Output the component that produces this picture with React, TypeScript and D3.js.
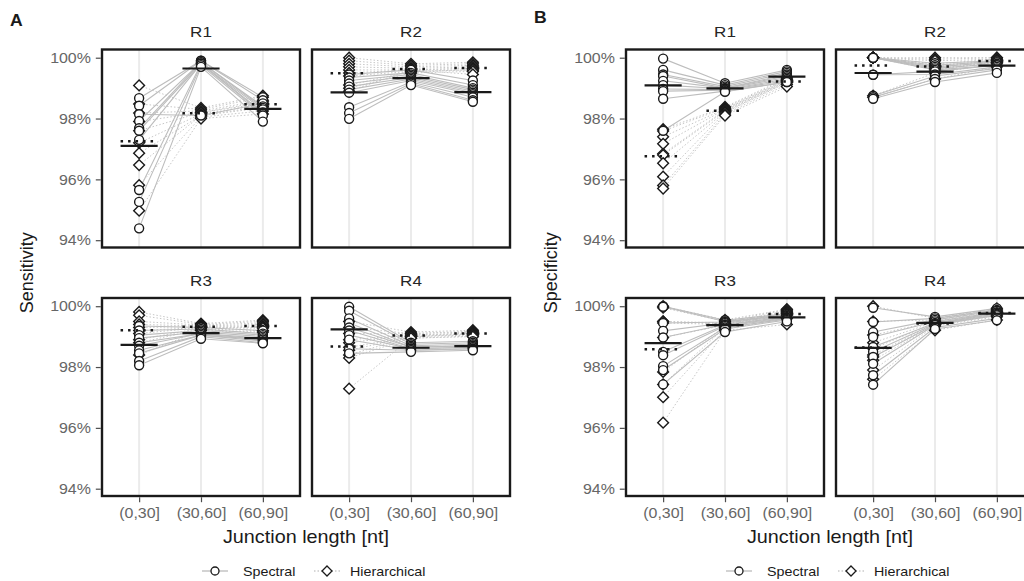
import * as d3 from 'd3';
import { useRef, useEffect } from 'react';

const categories = ['(0,30]', '(30,60]', '(60,90]'];
const regions = ['R1', 'R2', 'R3', 'R4'];
const methods = ['Spectral', 'Hierarchical'];
const yTicks = [94, 96, 98, 100];

// sensitivity (%), one array per junction-length bin, samples in the same order
const sensR1Spectral = [
  [98.67, 98.42, 98.14, 97.92, 97.68, 97.6, 97.3, 95.65, 95.26, 94.39],
  [99.9, 99.9, 98.1, 99.85, 99.85, 99.8, 99.8, 99.8, 99.75, 99.7],
  [98.7, 98.6, 98.5, 98.4, 98.35, 98.3, 98.2, 98.15, 98.1, 97.9],
];
const sensR1Hierarchical = [
  [99.09, 98.48, 98.18, 97.9, 97.6, 97.2, 96.86, 96.47, 95.81, 94.97],
  [98.35, 98.3, 98.25, 98.2, 98.2, 98.15, 98.1, 98.1, 98.05, 98.0],
  [98.75, 98.7, 98.6, 98.55, 98.5, 98.45, 98.4, 98.35, 98.25, 98.15],
];
const sensR2Spectral = [
  [99.45, 99.35, 99.25, 99.15, 99.05, 98.95, 98.85, 98.37, 98.18, 97.99],
  [99.6, 99.5, 99.45, 99.4, 99.35, 99.3, 99.25, 99.2, 99.15, 99.1],
  [99.25, 99.1, 99.0, 98.95, 98.9, 98.85, 98.8, 98.7, 98.6, 98.55],
];
const sensR2Hierarchical = [
  [100.0, 99.9, 99.8, 99.7, 99.6, 99.5, 99.4, 99.1, 99.0, 98.9],
  [99.8, 99.75, 99.7, 99.65, 99.6, 99.6, 99.55, 99.55, 99.5, 99.6],
  [99.85, 99.8, 99.75, 99.7, 99.65, 99.65, 99.6, 99.6, 99.55, 99.45],
];
const sensR3Spectral = [
  [99.35, 99.2, 99.05, 98.95, 98.8, 98.7, 98.55, 98.45, 98.2, 98.06],
  [99.3, 99.25, 99.2, 99.15, 99.1, 99.1, 99.05, 99.05, 99.0, 98.93],
  [99.2, 99.1, 99.05, 99.0, 98.95, 98.9, 98.9, 98.85, 98.8, 98.78],
];
const sensR3Hierarchical = [
  [99.81, 99.7, 99.5, 99.4, 99.3, 99.2, 99.1, 98.9, 98.8, 98.4],
  [99.43, 99.4, 99.38, 99.35, 99.33, 99.3, 99.3, 99.28, 99.25, 99.2],
  [99.54, 99.5, 99.45, 99.4, 99.35, 99.33, 99.3, 99.28, 99.2, 99.15],
];
const sensR4Spectral = [
  [99.98, 99.85, 99.6, 99.45, 99.3, 99.2, 99.05, 98.9, 98.6, 98.45],
  [98.8, 98.75, 98.7, 98.65, 98.65, 98.6, 98.6, 98.55, 98.55, 98.5],
  [98.85, 98.8, 98.75, 98.7, 98.7, 98.65, 98.65, 98.6, 98.6, 98.55],
];
const sensR4Hierarchical = [
  [99.5, 99.3, 99.1, 98.9, 98.8, 98.65, 98.55, 98.4, 98.3, 97.29],
  [99.15, 99.1, 99.1, 99.05, 99.05, 99.0, 99.0, 99.0, 98.95, 98.95],
  [99.21, 99.18, 99.15, 99.12, 99.1, 99.1, 99.08, 99.05, 99.02, 99.0],
];

// specificity (%)
const specR1Spectral = [
  [99.97, 99.6, 99.45, 99.4, 99.24, 99.1, 98.97, 98.9, 98.65, 97.6],
  [99.16, 99.1, 99.05, 99.0, 99.0, 98.98, 98.95, 98.93, 98.9, 98.88],
  [99.6, 99.55, 99.5, 99.45, 99.4, 99.35, 99.3, 99.25, 99.2, 99.2],
];
const specR1Hierarchical = [
  [97.65, 97.59, 97.4, 97.17, 96.84, 96.8, 96.53, 96.09, 95.8, 95.7],
  [98.38, 98.35, 98.32, 98.3, 98.28, 98.25, 98.22, 98.2, 98.15, 98.1],
  [99.34, 99.3, 99.28, 99.25, 99.24, 99.22, 99.2, 99.18, 99.12, 99.05],
];
const specR2Spectral = [
  [100, 100, 100, 100, 100, 99.44, 99.44, 98.75, 98.7, 98.65],
  [99.82, 99.75, 99.7, 99.65, 99.6, 99.55, 99.45, 99.4, 99.3, 99.2],
  [99.9, 99.88, 99.85, 99.8, 99.75, 99.75, 99.7, 99.65, 99.6, 99.5],
];
const specR2Hierarchical = [
  [100, 100, 100, 100, 100, 100, 100, 100, 98.75, 98.7],
  [100, 99.95, 99.9, 99.8, 99.75, 99.7, 99.65, 99.6, 99.5, 99.3],
  [100, 100, 99.95, 99.95, 99.9, 99.9, 99.85, 99.85, 99.8, 99.7],
];
const specR3Spectral = [
  [100, 99.98, 99.45, 99.19, 98.97, 98.5, 98.39, 98.03, 97.9, 97.43],
  [99.54, 99.5, 99.48, 99.45, 99.4, 99.38, 99.35, 99.3, 99.25, 99.15],
  [99.75, 99.72, 99.7, 99.68, 99.65, 99.62, 99.6, 99.58, 99.55, 99.5],
];
const specR3Hierarchical = [
  [100, 99.95, 99.5, 99.5, 99.45, 98.97, 97.84, 97.43, 97.01, 96.17],
  [99.55, 99.5, 99.45, 99.42, 99.4, 99.38, 99.35, 99.3, 99.25, 99.2],
  [99.9, 99.88, 99.85, 99.82, 99.8, 99.78, 99.75, 99.7, 99.6, 99.4],
];
const specR4Spectral = [
  [99.95, 99.48, 99.15, 98.99, 98.66, 98.5, 98.33, 98.11, 97.73, 97.42],
  [99.65, 99.6, 99.55, 99.5, 99.45, 99.42, 99.4, 99.38, 99.3, 99.25],
  [99.93, 99.88, 99.85, 99.8, 99.78, 99.75, 99.72, 99.7, 99.6, 99.54],
];
const specR4Hierarchical = [
  [100, 99.5, 99.05, 98.8, 98.61, 98.4, 98.33, 98.22, 97.9, 97.6],
  [99.6, 99.55, 99.5, 99.48, 99.45, 99.42, 99.4, 99.38, 99.35, 99.21],
  [99.93, 99.9, 99.85, 99.82, 99.8, 99.78, 99.75, 99.7, 99.65, 99.55],
];

const figures = [
  {
    tag: 'A', yTitle: 'Sensitivity', left: 102, tagY: 26,
    panels: [
      [sensR1Spectral, sensR1Hierarchical], [sensR2Spectral, sensR2Hierarchical],
      [sensR3Spectral, sensR3Hierarchical], [sensR4Spectral, sensR4Hierarchical],
    ],
  },
  {
    tag: 'B', yTitle: 'Specificity', left: 626, tagY: 23,
    panels: [
      [specR1Spectral, specR1Hierarchical], [specR2Spectral, specR2Hierarchical],
      [specR3Spectral, specR3Hierarchical], [specR4Spectral, specR4Hierarchical],
    ],
  },
];

const panelW = 198;
const panelH = 198;
const panelGap = 12;
const rowTops = [49.5, 298];
const yDomain = [93.76, 100.27];
const SX = 1.1; // text in the reference is a bit wider than tall
const FONT = '"Liberation Sans", Arial, Helvetica, sans-serif';
const INK = '#1a1a1a';

const diamond = (r: number) => `M0,${-r}L${r},0L0,${r}L${-r},0Z`;

const App = () => {
  const svgRef = useRef<SVGSVGElement | null>(null);

  useEffect(() => {
    const svg = d3.select(svgRef.current);
    svg.selectAll('*').remove();
    svg.attr('font-family', FONT);

    const stretchText = (
      parent: d3.Selection<any, any, any, any>, x: number, y: number, str: string,
      size: number, fill: string, anchor = 'middle', weight = 'normal',
    ) => parent.append('text')
      .attr('transform', `translate(${x},${y}) scale(${SX},1)`)
      .attr('text-anchor', anchor)
      .attr('font-size', size)
      .attr('font-weight', weight)
      .attr('fill', fill)
      .text(str);

    figures.forEach((fig) => {
      const fg = svg.append('g');
      const totalW = 2 * panelW + panelGap;
      const centerX = fig.left + totalW / 2;

      fig.panels.forEach(([spectral, hierarchical], i) => {
        const col = i % 2;
        const row = Math.floor(i / 2);
        const left = fig.left + col * (panelW + panelGap);
        const top = rowTops[row];
        const g = fg.append('g');

        const x = d3.scalePoint<string>().domain(categories).range([left, left + panelW]).padding(0.6);
        const y = d3.scaleLinear().domain(yDomain).range([top + panelH, top]);
        const half = x.step() * 0.3;

        // vertical grid
        g.selectAll('line.grid').data(categories).join('line')
          .attr('x1', d => x(d)!).attr('x2', d => x(d)!)
          .attr('y1', top).attr('y2', top + panelH)
          .attr('stroke', '#ebebeb').attr('stroke-width', 2);

        const samples = (cols: number[][]) =>
          cols[0].map((_, j) => cols.map((c, k) => [x(categories[k])!, y(c[j])] as [number, number]));
        const line = d3.line();

        g.append('g').selectAll('path').data(samples(hierarchical)).join('path')
          .attr('d', d => line(d))
          .attr('fill', 'none').attr('stroke', '#c8c8c8')
          .attr('stroke-width', 1).attr('stroke-dasharray', '1.5,2');
        g.append('g').selectAll('path').data(samples(spectral)).join('path')
          .attr('d', d => line(d))
          .attr('fill', 'none').attr('stroke', '#bdbdbd').attr('stroke-width', 1.1);

        const flat = (cols: number[][]) =>
          cols.flatMap((c, k) => c.map(v => ({ cat: categories[k], v })));

        g.append('g').selectAll('path').data(flat(hierarchical)).join('path')
          .attr('d', diamond(5.4))
          .attr('transform', d => `translate(${x(d.cat)},${y(d.v)})`)
          .attr('fill', '#fff').attr('stroke', INK).attr('stroke-width', 1.4);
        g.append('g').selectAll('circle').data(flat(spectral)).join('circle')
          .attr('cx', d => x(d.cat)!).attr('cy', d => y(d.v)).attr('r', 4.5)
          .attr('fill', '#fff').attr('stroke', INK).attr('stroke-width', 1.4);

        // means
        const means = (cols: number[][]) =>
          categories.map((cat, k) => ({ cat, m: d3.mean(cols[k]) as number }));
        g.append('g').selectAll('line').data(means(hierarchical)).join('line')
          .attr('x1', d => x(d.cat)! - half).attr('x2', d => x(d.cat)! + half)
          .attr('y1', d => y(d.m)).attr('y2', d => y(d.m))
          .attr('stroke', INK).attr('stroke-width', 2.5).attr('stroke-dasharray', '2.5,5');
        g.append('g').selectAll('line').data(means(spectral)).join('line')
          .attr('x1', d => x(d.cat)! - half).attr('x2', d => x(d.cat)! + half)
          .attr('y1', d => y(d.m)).attr('y2', d => y(d.m))
          .attr('stroke', INK).attr('stroke-width', 2.2);

        // panel border
        g.append('rect')
          .attr('x', left).attr('y', top).attr('width', panelW).attr('height', panelH)
          .attr('fill', 'none').attr('stroke', INK).attr('stroke-width', 2.4);

        // strip label
        stretchText(g, left + panelW / 2, top - 12.5, regions[i], 15.5, '#262626');

        // y axis on left column
        if (col === 0) {
          const ax = g.append('g').attr('transform', `translate(${left - 1.2},0)`)
            .call(d3.axisLeft(y).tickValues(yTicks).tickFormat(d => `${d}%`).tickSize(5).tickPadding(4));
          ax.select('.domain').remove();
          ax.selectAll('.tick line').attr('stroke', '#4d4d4d').attr('stroke-width', 1.2);
          ax.selectAll('.tick text')
            .attr('font-size', 14.5).attr('font-family', FONT).attr('fill', '#666')
            .attr('transform', `scale(${SX},1)`);
        }
        // x axis on bottom row
        if (row === 1) {
          const ax = g.append('g').attr('transform', `translate(0,${top + panelH + 1.2})`)
            .call(d3.axisBottom(x).tickSize(5).tickPadding(6));
          ax.select('.domain').remove();
          ax.selectAll('.tick line').attr('stroke', '#4d4d4d').attr('stroke-width', 1.2);
          ax.selectAll('.tick text')
            .attr('font-size', 14.5).attr('font-family', FONT).attr('fill', '#666')
            .attr('transform', `scale(${SX},1)`);
        }
      });

      // figure tag
      stretchText(fg, fig.left - 92, fig.tagY, fig.tag, 16, INK, 'start', 'bold');

      // y title
      fg.append('text')
        .attr('transform', `translate(${fig.left - 69},${(rowTops[0] + rowTops[1] + panelH) / 2}) rotate(-90)`)
        .attr('text-anchor', 'middle').attr('font-size', 18).attr('fill', INK)
        .text(fig.yTitle);

      // x title
      stretchText(fg, centerX, 543, 'Junction length [nt]', 18, INK);

      // legend
      const x0 = centerX - 104;
      const ly = 571;
      const lg = fg.append('g');
      lg.append('line').attr('x1', x0).attr('x2', x0 + 26).attr('y1', ly).attr('y2', ly)
        .attr('stroke', '#b0b0b0').attr('stroke-width', 1.1);
      lg.append('circle').attr('cx', x0 + 13).attr('cy', ly).attr('r', 4)
        .attr('fill', '#fff').attr('stroke', INK).attr('stroke-width', 1.3);
      stretchText(lg, x0 + 41, ly + 5, methods[0], 13, INK, 'start');
      lg.append('line').attr('x1', x0 + 112).attr('x2', x0 + 139).attr('y1', ly).attr('y2', ly)
        .attr('stroke', '#b0b0b0').attr('stroke-width', 1.1).attr('stroke-dasharray', '1.5,2');
      lg.append('path').attr('d', diamond(5)).attr('transform', `translate(${x0 + 125},${ly})`)
        .attr('fill', '#fff').attr('stroke', INK).attr('stroke-width', 1.3);
      stretchText(lg, x0 + 148, ly + 5, methods[1], 13, INK, 'start');
    });
  }, []);

  return (
    <div style={{ position: 'absolute', left: 0, top: 0 }}>
      <svg ref={svgRef} width={1024} height={581} style={{ display: 'block', background: '#fff' }} />
    </div>
  );
};

export default App;
